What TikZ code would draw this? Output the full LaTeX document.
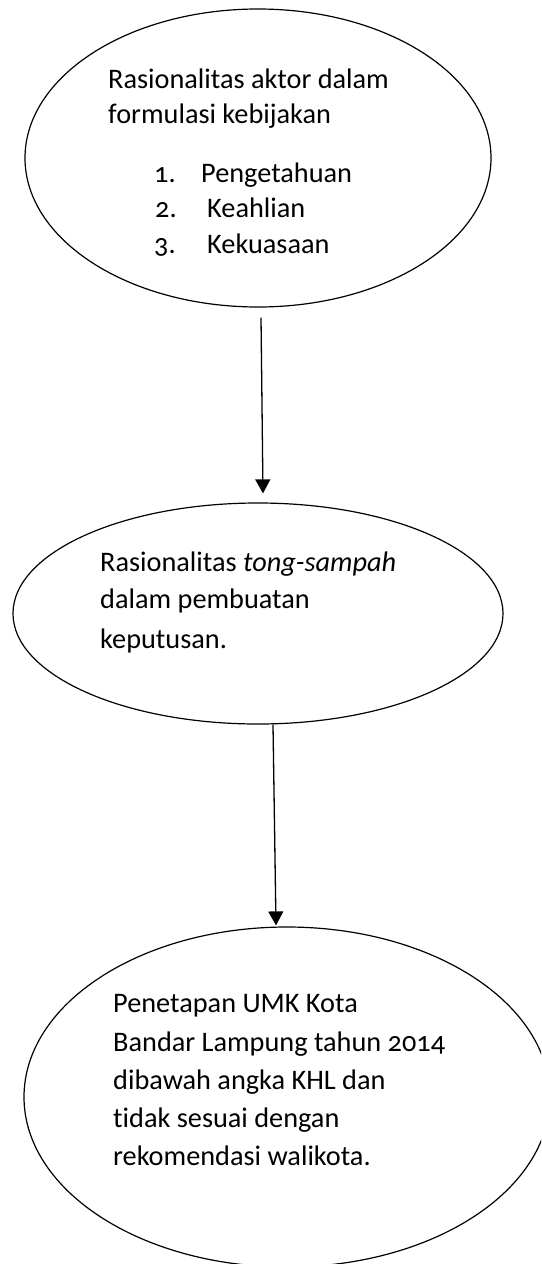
\documentclass[tikz,border=0pt]{standalone}
\usepackage{fontspec}
\setmainfont{Carlito}[Numbers=OldStyle,Ligatures=NoCommon]
\usetikzlibrary{shapes.geometric,arrows.meta}
\tikzset{
  bubble/.style={draw=black,line width=1.2pt,ellipse,inner sep=0pt,fill=none},
  line/.style={anchor=base west,inner sep=0pt,font=\fontsize{28.3pt}{35pt}\selectfont},
  arr/.style={line width=1.3pt,-{Triangle[length=14pt,width=15pt]}}
}
\begin{document}
\begin{tikzpicture}[x=1pt,y=-1pt]
\useasboundingbox (0,0) rectangle (541,1264);
\clip (0,0) rectangle (541,1264);
\fill[white] (0,0) rectangle (541,1264);
% ellipses
\node[bubble,minimum width=466pt,minimum height=298pt] (e1) at (258,158) {};
\node[bubble,minimum width=490pt,minimum height=221pt] (e2) at (258,613.5) {};
\node[bubble,minimum width=526pt,minimum height=340pt] (e3) at (287,1097) {};
% text of first ellipse
\node[line] (t1a) at (108,88) {Rasionalitas aktor dalam};
\node[line] (t1b) at (108,123) {formulasi kebijakan};
\node[line] (n1) at (154,182) {1.};
\node[line] (i1) at (201,182) {Pengetahuan};
\node[line] (n2) at (155,217) {2.};
\node[line] (i2) at (207,217) {Keahlian};
\node[line] (n3) at (154,253) {3.};
\node[line] (i3) at (207,253) {Kekuasaan};
% text of second ellipse
\node[line] (t2a) at (100,571) {Rasionalitas \textit{tong-sampah}};
\node[line] (t2b) at (100,608) {dalam pembuatan};
\node[line] (t2c) at (100,648) {keputusan.};
% text of third ellipse
\node[line] (t3a) at (113,1012) {Penetapan UMK Kota};
\node[line] (t3b) at (113,1051) {Bandar Lampung tahun 2014};
\node[line] (t3c) at (113,1089) {dibawah angka KHL dan};
\node[line] (t3d) at (113,1127) {tidak sesuai dengan};
\node[line] (t3e) at (113,1165) {rekomendasi walikota.};
% connectors
\draw[arr] ([xshift=3pt,yshift=-10pt]e1.south) -- ([xshift=5pt,yshift=9pt]e2.north);
\draw[arr] ([xshift=15pt]e2.south) -- ([xshift=-11pt,yshift=1pt]e3.north);
\end{tikzpicture}
\end{document}
